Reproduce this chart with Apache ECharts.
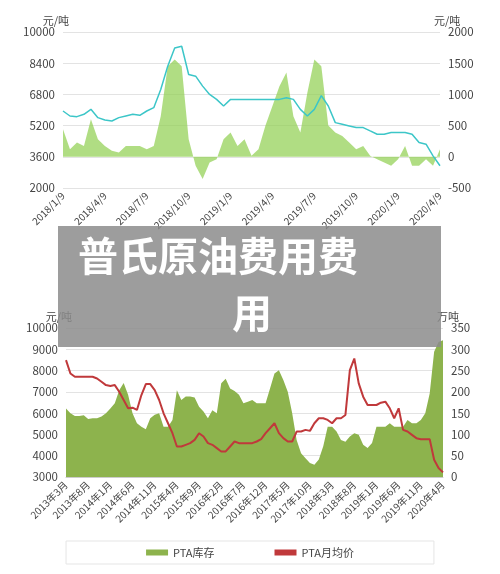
<!DOCTYPE html>
<html><head><meta charset="utf-8">
<script src="https://cdn.jsdelivr.net/npm/echarts@6/dist/echarts.min.js"></script>
<style>html,body{margin:0;padding:0;background:#fff}#c{width:500px;height:574px}</style>
</head><body><div id="c"></div>
<script>
const topDates = ["2018/1/9","2018/1/24","2018/2/9","2018/2/24","2018/3/9","2018/3/24","2018/4/9","2018/4/24","2018/5/9","2018/5/24","2018/6/9","2018/6/24","2018/7/9","2018/7/24","2018/8/9","2018/8/24","2018/9/9","2018/9/24","2018/10/9","2018/10/24","2018/11/9","2018/11/24","2018/12/9","2018/12/24","2019/1/9","2019/1/24","2019/2/9","2019/2/24","2019/3/9","2019/3/24","2019/4/9","2019/4/24","2019/5/9","2019/5/24","2019/6/9","2019/6/24","2019/7/9","2019/7/24","2019/8/9","2019/8/24","2019/9/9","2019/9/24","2019/10/9","2019/10/24","2019/11/9","2019/11/24","2019/12/9","2019/12/24","2020/1/9","2020/1/24","2020/2/9","2020/2/24","2020/3/9","2020/3/24","2020/4/9"];
const topPrice = [5949,5693,5659,5779,6034,5608,5489,5438,5608,5693,5779,5727,5949,6119,7055,8246,9182,9268,7821,7736,7225,6800,6544,6204,6544,6544,6544,6544,6544,6544,6544,6544,6630,6544,6034,5693,6034,6734,6204,5353,5268,5183,5098,5098,4927,4757,4757,4842,4842,4842,4757,4332,4247,3651,3140];
const topSpread = [440,120,230,175,600,280,175,95,70,175,175,175,120,175,650,1450,1560,1450,280,-145,-355,-90,-40,280,390,175,280,15,120,500,815,1130,1350,650,390,1025,1560,1450,500,390,335,230,120,175,15,-40,-90,-145,-40,175,-145,-145,-40,-145,120];

const botMonths = [];
const botPrice = [8488,7864,7708,7708,7708,7708,7708,7630,7474,7318,7272,7318,7007,6617,6227,6258,6149,6851,7365,7365,7085,6617,5993,5526,5058,4434,4434,4512,4590,4746,5058,4902,4590,4512,4356,4200,4200,4434,4668,4590,4590,4590,4590,4668,4777,5058,5292,5526,5058,4824,4668,4668,5136,5136,5214,5167,5526,5759,5759,5681,5526,5759,5759,5915,8020,8566,7396,6773,6383,6383,6383,6492,6539,6227,5759,6227,5214,5136,4980,4824,4777,4777,4777,3811,3421,3218];
const botStock = [161,150,143,143,145,136,138,138,142,150,161,173,204,221,193,150,126,118,112,138,146,150,118,118,134,204,181,189,189,187,165,154,138,157,150,220,231,208,202,193,173,177,181,173,173,173,208,243,251,228,200,150,87,56,44,33,29,41,72,118,118,107,87,83,95,103,99,76,68,80,118,118,118,126,118,118,118,134,126,126,134,150,196,294,317,321];
(function(){let y=2013,m=3;for(let i=0;i<86;i++){botMonths.push(y+"年"+m+"月");m++;if(m>12){m=1;y++;}}})();

const lab = {color:'#444',fontSize:11.5,fontFamily:'Noto Sans CJK SC',formatter:v=>String(v)};
const nameLab = {color:'#444',fontSize:11,fontFamily:'Noto Sans CJK SC'};
const chart = echarts.init(document.getElementById('c'));
chart.setOption({
  animation:false,
  grid:[{left:63,right:60,top:32,height:156,containLabel:false},{left:66,right:57,top:328,height:149,containLabel:false}],
  xAxis:[
    {gridIndex:0,type:'category',data:topDates,boundaryGap:false,axisLine:{show:false},axisTick:{show:false},
     axisLabel:{color:'#444',fontSize:10,fontFamily:'Noto Sans CJK SC',rotate:45,interval:5,margin:6}},
    {gridIndex:1,type:'category',data:botMonths,boundaryGap:false,axisLine:{lineStyle:{color:'#ccc'}},axisTick:{show:false},
     axisLabel:{color:'#444',fontSize:10,fontFamily:'Noto Sans CJK SC',rotate:45,interval:4,margin:6}}
  ],
  yAxis:[
    {gridIndex:0,type:'value',min:2000,max:10000,interval:1600,name:'元/吨',nameGap:6,nameTextStyle:Object.assign({},nameLab,{align:'right',padding:[0,-6,0,0]}),axisLabel:lab,splitLine:{lineStyle:{color:'#e3e3e3'}}},
    {gridIndex:0,type:'value',min:-500,max:2000,interval:500,name:'元/吨',nameGap:6,nameTextStyle:Object.assign({},nameLab,{align:'left',padding:[0,0,0,-6]}),axisLabel:lab,splitLine:{show:false}},
    {gridIndex:1,type:'value',min:3000,max:10000,interval:1000,name:'元/吨',nameGap:6,nameTextStyle:Object.assign({},nameLab,{align:'right',padding:[0,-6,0,0]}),axisLabel:lab,splitLine:{lineStyle:{color:'#e3e3e3'}}},
    {gridIndex:1,type:'value',min:0,max:350,interval:50,name:'万吨',nameGap:6,nameTextStyle:Object.assign({},nameLab,{align:'left',padding:[0,0,0,-6]}),axisLabel:lab,splitLine:{show:false}}
  ],
  legend:{bottom:10,left:'center',itemGap:60,itemWidth:22,itemHeight:6,textStyle:nameLab,borderColor:'#e5e5e5',borderWidth:1,padding:[6,80],
    data:[{name:'PTA库存',icon:'rect'},{name:'PTA月均价',icon:'rect'}]},
  series:[
    {type:'line',xAxisIndex:0,yAxisIndex:1,data:topSpread,symbol:'none',lineStyle:{width:0},areaStyle:{color:'#8fcf4f',origin:0},z:1},
    {type:'line',xAxisIndex:0,yAxisIndex:0,data:topPrice,symbol:'none',lineStyle:{color:'#3cc6c8',width:1.5},z:2},
    {name:'PTA库存',type:'line',xAxisIndex:1,yAxisIndex:3,data:botStock,symbol:'none',itemStyle:{color:'#8db34d'},lineStyle:{width:0},areaStyle:{color:'#8db34d',opacity:1},z:1},
    {name:'PTA月均价',type:'line',xAxisIndex:1,yAxisIndex:2,data:botPrice,symbol:'none',itemStyle:{color:'#c0393b'},lineStyle:{color:'#c0393b',width:2},z:2}
  ],
  graphic:[
    {type:'rect',shape:{x:58,y:226,width:383,height:121},style:{fill:'rgba(140,140,140,0.85)'},z:100},
    {type:'text',x:78,y:236,style:{text:'普氏原油费用费',fill:'#fff',font:'bold 40px "Noto Sans CJK SC"'},z:101},
    {type:'text',x:232,y:293,style:{text:'用',fill:'#fff',font:'bold 40px "Noto Sans CJK SC"'},z:101}
  ]
});
</script></body></html>
